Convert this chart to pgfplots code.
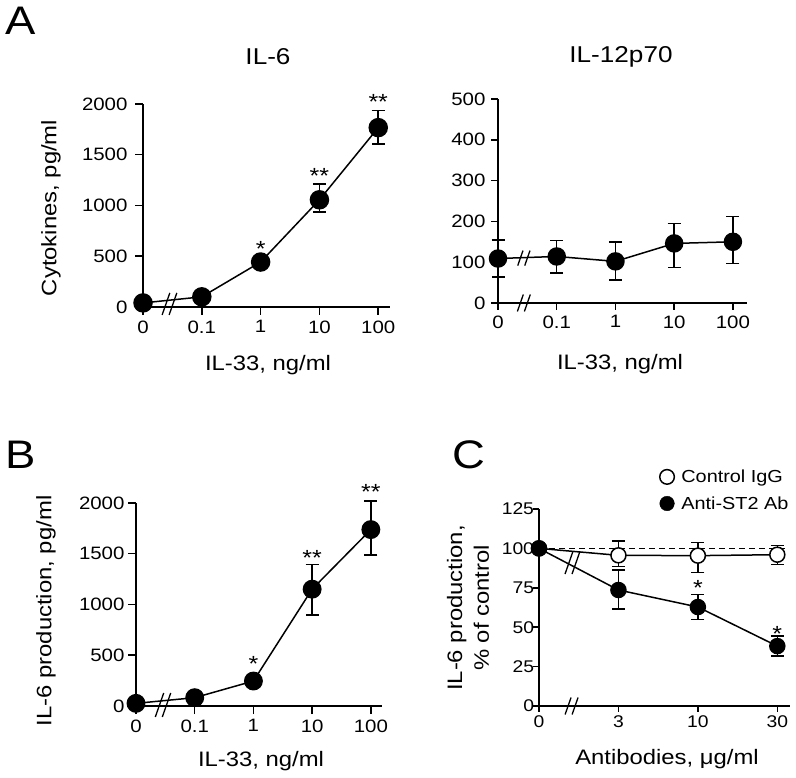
\documentclass[border=0pt]{standalone}
\usepackage{fontspec}
\setmainfont{Liberation Sans}[FakeStretch=1.14]
\usepackage{pgfplots}
\pgfplotsset{compat=1.18}
\newcommand{\fs}[1]{\fontsize{#1}{#1}\selectfont}
\newcommand{\brk}[3]{%
  \draw[line width=1.3bp,black] ([xshift={-0.175*#3*1bp-3.5bp},yshift={-0.5*#3*1bp}]axis cs:#1,#2) -- ++({0.35*#3*1bp},{#3*1bp});
  \draw[line width=1.3bp,black] ([xshift={-0.175*#3*1bp+3.5bp},yshift={-0.5*#3*1bp}]axis cs:#1,#2) -- ++({0.35*#3*1bp},{#3*1bp});
}
\pgfplotsset{
  panel/.style={
    scale only axis,
    axis lines*=left,
    axis line style={-, line width=1.5bp, black},
    tick style={black, line width=1.5bp},
    major tick length=8bp,
    tick align=outside,
    clip=false,
    xmin=0, ymin=0,
    xtick={0,1,2,3,4},
    tick label style={font=\fs{18}},
    /pgf/number format/assume math mode=true,
  },
  dat/.style={black, line width=1.5bp, mark=*, mark size=#1,
    mark options={solid, fill=black, draw=black},
    error bars/y dir=both, error bars/y explicit,
    error bars/error bar style={line width=1.5bp, black},
    error bars/error mark options={rotate=90, line width=1.5bp, mark size=6.5bp, black}},
}
\begin{document}
\begin{tikzpicture}[x=1bp,y=1bp]
\useasboundingbox (0,0) rectangle (796,778);

% ---------- A left: IL-6
\begin{axis}[panel, at={(143bp,471bp)}, anchor=south west, width=247bp, height=203bp,
  xmax=4.2, ymax=2000,
  ytick={0,500,1000,1500,2000}, yticklabels={0,500,1000,1500,2000},
  xticklabels={0,0.1,1,10,100},
  yticklabel style={xshift=-4bp}, xticklabel style={yshift=-2bp}]
\addplot[dat=9bp] coordinates {(0,40) (1,100) (2,443)
  (3,1056) += (0,157) -= (0,122)
  (4,1767) += (0,167) -= (0,160)};
\node[anchor=base, font=\fs{22}] at (axis cs:2,493) {*};
\node[anchor=base, font=\fs{22}] at (axis cs:3,1212) {**};
\node[anchor=base, font=\fs{22}] at (axis cs:4,1941) {**};
\brk{0.45}{30}{22}
\end{axis}

% ---------- A right: IL-12p70
\begin{axis}[panel, at={(498bp,475bp)}, anchor=south west, width=249bp, height=204bp,
  xmax=4.24, ymax=500, major tick length=7bp,
  ytick={0,100,200,300,400,500}, yticklabels={0,100,200,300,400,500},
  xticklabels={0,0.1,1,10,100},
  yticklabel style={xshift=-2bp}, xticklabel style={yshift=-2bp}]
\addplot[dat=8.5bp] coordinates {
  (0,109) += (0,45) -= (0,45)
  (1,114) += (0,39) -= (0,41)
  (2,102) += (0,48) -= (0,46)
  (3,146) += (0,49) -= (0,59)
  (4,150) += (0,62) -= (0,53)};
\brk{0.44}{110}{15}
\brk{0.44}{0}{17}
\end{axis}

% ---------- B
\begin{axis}[panel, at={(136bp,72bp)}, anchor=south west, width=246bp, height=203bp,
  xmax=4.19, ymax=2000,
  ytick={0,500,1000,1500,2000}, yticklabels={0,500,1000,1500,2000},
  xticklabels={0,0.1,1,10,100},
  yticklabel style={xshift=0bp}, xticklabel style={yshift=-2bp}]
\addplot[dat=8.7bp] coordinates {(0,26) (1,82) (2,246)
  (3,1151) += (0,242) -= (0,256)
  (4,1738) += (0,282) -= (0,249)};
\node[anchor=base, font=\fs{22}] at (axis cs:2,335) {*};
\node[anchor=base, font=\fs{22}] at (axis cs:3,1389) {**};
\node[anchor=base, font=\fs{22}] at (axis cs:4,2030) {**};
\brk{0.46}{10}{24}
\end{axis}

% ---------- C
\begin{axis}[panel, at={(539bp,72bp)}, anchor=south west, width=251bp, height=197bp,
  xmax=3.16, ymax=125, major tick length=6bp,
  xtick={0,1,2,3}, xticklabels={0,3,10,30},
  ytick={0,25,50,75,100,125}, yticklabels={0,25,50,75,100,125},
  tick label style={font=\fs{17}},
  yticklabel style={xshift=4.5bp}, xticklabel style={yshift=0bp},
  legend style={at={(axis cs:1.52,150)}, anchor=north west, draw=none, fill=none,
    inner sep=0pt, outer sep=0pt, row sep=12bp, column sep=7bp,
    nodes={inner sep=0pt}, font=\fs{17.5}},
  legend cell align=left,
  legend image code/.code={\draw[#1] plot coordinates {(0bp,0bp)};}]
\addlegendimage{only marks, mark=*, mark size=7.3bp, mark options={solid, fill=white, draw=black, line width=1.5bp}}
\addlegendentry{Control IgG}
\addlegendimage{only marks, mark=*, mark size=7.3bp, mark options={solid, fill=black, draw=black}}
\addlegendentry{Anti-ST2 Ab}
\addplot[black, line width=0.8bp, dash pattern=on 6bp off 4bp, forget plot] coordinates {(0,100) (3.13,100)};
\addplot[dat=7.5bp, mark options={solid, fill=white, draw=black}, forget plot] coordinates {
  (0,100)
  (1,95.6) += (0,9.1) -= (0,7.2)
  (2,95.4) += (0,8.4) -= (0,10.6)
  (3,96) += (0,5.7) -= (0,6.3)};
\addplot[dat=7.5bp, forget plot] coordinates {
  (0,100)
  (1,73.6) += (0,12.7) -= (0,12.1)
  (2,62.8) += (0,8.1) -= (0,8.0)
  (3,38) += (0,6.4) -= (0,6.3)};
\node[anchor=base, font=\fs{22}] at (axis cs:2,70.4) {*};
\node[anchor=base, font=\fs{22}] at (axis cs:3,41.2) {*};
\brk{0.42}{90.7}{22}
\brk{0.41}{0}{17}
\end{axis}

% ---------- text
\node[font=\fs{40}] at (21,757) {A};
\node[font=\fs{40}] at (21,323) {B};
\node[font=\fs{40}] at (469,323) {C};
\node[font=\fs{23}] at (268,721) {IL-6};
\node[font=\fs{23}] at (621,721) {IL-12p70};
\node[anchor=base, font=\fs{21}] at (268,407) {IL-33, ng/ml};
\node[anchor=base, font=\fs{21}] at (620,408) {IL-33, ng/ml};
\node[anchor=base, font=\fs{21}] at (261,11) {IL-33, ng/ml};
\node[anchor=base, font=\fs{21}] at (667,13) {Antibodies, μg/ml};
\node[rotate=90, font=\fs{21}] at (51,570) {Cytokines, pg/ml};
\node[rotate=90, font=\fs{21}] at (46,167) {IL-6 production, pg/ml};
\node[rotate=90, font=\fontsize{21}{27}\selectfont, align=center] at (468,170) {IL-6 production,\\\% of control};
\end{tikzpicture}
\end{document}
